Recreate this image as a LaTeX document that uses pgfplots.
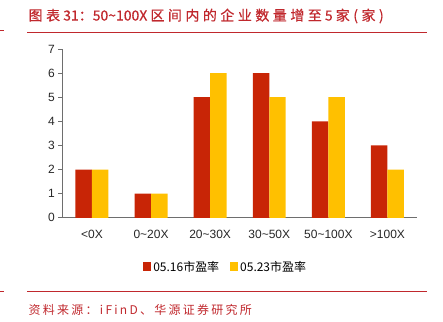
\documentclass[border=0pt]{standalone}
\usepackage{pgfplots}
\pgfplotsset{compat=1.18}
\usepackage{fontspec}
\setmainfont{Liberation Sans}
\newfontfamily\cjk{Noto Sans CJK SC}
\newfontfamily\cjkt[FakeBold=0.6]{Noto Sans CJK SC}
\newfontfamily\cjkwide[LetterSpace=25,FakeBold=0.6]{Noto Sans CJK SC}
\newfontfamily\cjksrc[LetterSpace=19]{Noto Sans CJK SC}
\definecolor{rbar}{HTML}{C82506}
\definecolor{ybar}{HTML}{FFC000}
\definecolor{titred}{HTML}{C0282D}
\definecolor{axgray}{HTML}{6E6E6E}
\begin{document}
\begin{tikzpicture}[x=1pt,y=1pt]
\path (0,0) rectangle (443,322);
% title and rules
\node[anchor=west,text=titred,inner sep=0pt] at (28,306) {\fontsize{14}{17}\selectfont{\cjkwide 图表}\cjkt\ 31：50\textasciitilde100X\ {\cjkwide 区间内的企业数量增至}\cjkt\ 5 {\cjkwide 家(家)}};
\draw[titred,line width=0.9pt] (27,290) -- (427,290);
\draw[titred,line width=0.9pt] (0,292) -- (4,292);
\draw[titred,line width=0.9pt] (27,30) -- (427,30);
\draw[titred,line width=0.9pt] (0,30) -- (4,30);
\node[anchor=west,text=titred,inner sep=0pt] at (28,12) {\cjksrc\fontsize{12}{14}\selectfont 资料来源：iFinD、华源证券研究所};
\begin{axis}[
  at={(62pt,104pt)}, anchor=south west,
  scale only axis, width=355pt, height=169pt,
  ybar=0pt, bar width=16.5pt,
  xmin=-0.5, xmax=5.5, ymin=0, ymax=7,
  axis lines*=left,
  axis line style={axgray,line width=0.8pt},
  xtick={0,1,2,3,4,5},
  xticklabels={<0X,0\textasciitilde20X,20\textasciitilde30X,30\textasciitilde50X,50\textasciitilde100X,>100X},
  x tick style={draw=none},
  extra x ticks={0.5,1.5,2.5,3.5,4.5,5.5},
  extra x tick labels={},
  extra x tick style={tick style={draw=axgray,line width=0.8pt}, major tick length=4pt, tick align=outside},
  ytick={0,1,...,7},
  y tick style={axgray,line width=0.8pt},
  major tick length=4pt,
  tick align=outside,
  tick label style={font=\fontsize{12}{14}\selectfont, text=black!85},
  /pgf/number format/assume math mode=true,
  xticklabel style={yshift=-5pt},
  legend style={at={(0.5,0)}, anchor=center, xshift=-14pt, yshift=-49pt, draw=none, legend columns=2, font=\cjk\fontsize{12}{14}\selectfont, /tikz/every even column/.append style={column sep=9pt}},
  legend image code/.code={\fill[#1] (0pt,-4.5pt) rectangle (8pt,4.5pt);},
]
\addplot[fill=rbar, draw=none] coordinates {(0,2) (1,1) (2,5) (3,6) (4,4) (5,3)};
\addplot[fill=ybar, draw=none] coordinates {(0,2) (1,1) (2,6) (3,5) (4,5) (5,2)};
\legend{05.16市盈率,05.23市盈率}
\end{axis}
\end{tikzpicture}
\end{document}
